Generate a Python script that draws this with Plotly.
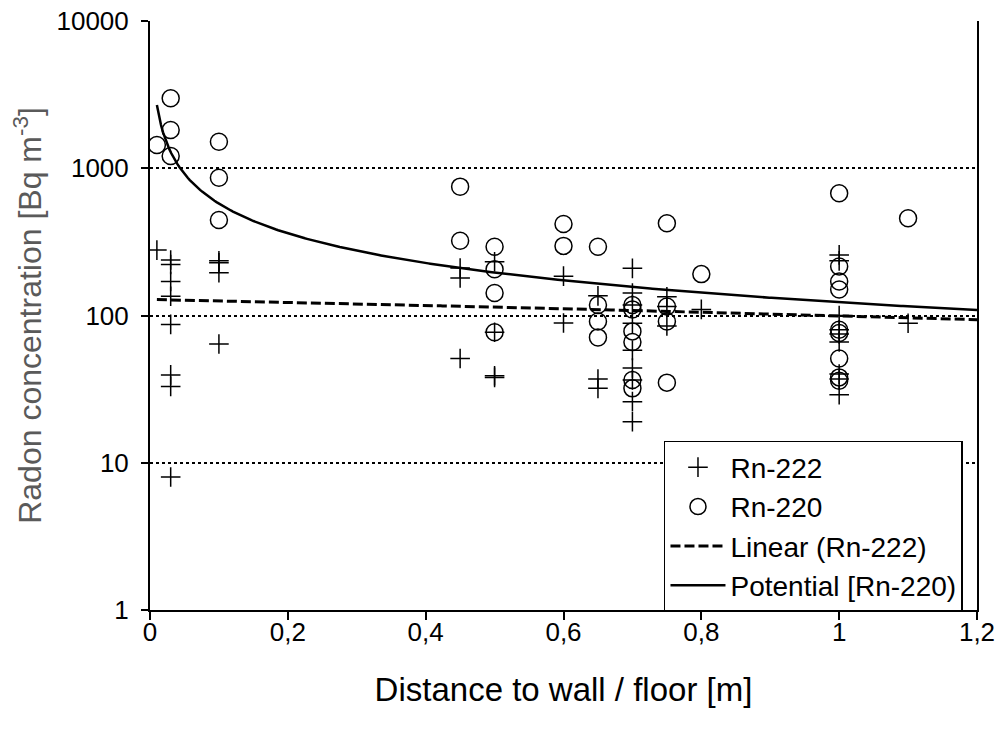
import numpy as np
import plotly.graph_objects as go

# Rn-222 measurements (crosses)
rn222_x = [0.01,
           0.03, 0.03, 0.03, 0.03, 0.03, 0.03, 0.03, 0.03,
           0.1, 0.1, 0.1, 0.1,
           0.45, 0.45, 0.45,
           0.5, 0.5, 0.5, 0.5,
           0.6, 0.6,
           0.65, 0.65, 0.65,
           0.7, 0.7, 0.7, 0.7, 0.7, 0.7, 0.7, 0.7, 0.7,
           0.75, 0.75, 0.75,
           0.8,
           1.0, 1.0, 1.0, 1.0, 1.0, 1.0, 1.0, 1.0, 1.0,
           1.1]
rn222_y = [278,
           238, 222, 170, 135, 87, 39.5, 33, 8,
           235, 228, 195, 64,
           210, 180, 51,
           232, 77, 39, 38,
           185, 89,
           136, 37, 32,
           209, 142, 118, 88.5, 58, 44, 36.5, 26, 19,
           134, 115, 85,
           110,
           258, 235, 100, 80, 75, 66, 40, 37, 29,
           88.5]

# Rn-220 measurements (circles)
rn220_x = [0.01,
           0.03, 0.03, 0.03,
           0.1, 0.1, 0.1,
           0.45, 0.45,
           0.5, 0.5, 0.5, 0.5,
           0.6, 0.6,
           0.65, 0.65, 0.65, 0.65,
           0.7, 0.7, 0.7, 0.7, 0.7, 0.7,
           0.75, 0.75, 0.75, 0.75,
           0.8,
           1.0, 1.0, 1.0, 1.0, 1.0, 1.0, 1.0, 1.0, 1.0,
           1.1]
rn220_y = [1438,
           2985, 1820, 1211,
           1515, 861, 445,
           750, 322,
           293, 206, 142, 77,
           418, 297,
           293, 118, 91, 71,
           118, 110, 78, 66, 36.5, 32,
           423, 115, 91, 35,
           191,
           676, 215, 170, 150, 80, 76, 51, 38, 36,
           457]

x_ticks = [0, 0.2, 0.4, 0.6, 0.8, 1.0, 1.2]
x_ticktext = ["0", "0,2", "0,4", "0,6", "0,8", "1", "1,2"]
y_ticks = [1, 10, 100, 1000, 10000]
y_ticktext = ["1", "10", "100", "1000", "10000"]

# Trend-line parameters
lin_intercept = 128.5      # Linear (Rn-222): y = a + b*x
lin_slope = -29.0
pow_coef = 123.0           # Potential (Rn-220): y = c * x^k
pow_exp = -0.67
trend_x_start = 0.01
trend_x_end = 1.2

xt = np.linspace(trend_x_start, trend_x_end, 400)
lin_y = lin_intercept + lin_slope * xt
pow_y = pow_coef * xt ** pow_exp

FONT = "Liberation Sans, Arial, sans-serif"

fig = go.Figure()
fig.add_trace(go.Scatter(x=rn222_x, y=rn222_y, mode="markers", name="Rn-222",
                         marker=dict(symbol="cross-thin", size=14, color="black",
                                     line=dict(color="black", width=1.5))))
fig.add_trace(go.Scatter(x=rn220_x, y=rn220_y, mode="markers", name="Rn-220",
                         marker=dict(symbol="circle-open", size=17, color="black",
                                     line=dict(color="black", width=1.5))))
fig.add_trace(go.Scatter(x=xt, y=lin_y, mode="lines", name="Linear (Rn-222)",
                         line=dict(color="black", width=3, dash="10px,4px")))
fig.add_trace(go.Scatter(x=xt, y=pow_y, mode="lines", name="Potential [Rn-220)",
                         line=dict(color="black", width=2.5)))

fig.update_layout(
    width=999, height=736,
    margin=dict(l=150, r=22, t=21, b=126, autoexpand=False),
    paper_bgcolor="white", plot_bgcolor="white",
    font=dict(family=FONT, color="black", size=26),
    showlegend=True,
    legend=dict(x=0.6215, y=0.287, xanchor="left", yanchor="top",
                bgcolor="white", bordercolor="black", borderwidth=1.5,
                font=dict(size=28, family=FONT), itemwidth=55,
                tracegroupgap=0),
    xaxis=dict(range=[0, 1.2], tickvals=x_ticks, ticktext=x_ticktext,
               automargin=False,
               showgrid=False, zeroline=False, showline=True,
               linecolor="black", linewidth=2, ticks="outside", ticklen=8,
               tickwidth=1.5, tickcolor="black",
               tickfont=dict(size=26), ticklabelstandoff=-10,
               title=dict(text="Distance to wall / floor [m]",
                          font=dict(size=33), standoff=32)),
    yaxis=dict(type="log", range=[0, 4], tickvals=y_ticks, ticktext=y_ticktext,
               automargin=False,
               showgrid=True, gridcolor="black", griddash="dot", gridwidth=1.5,
               zeroline=False, showline=True, linecolor="black", linewidth=2,
               mirror=True, ticks="outside", ticklen=7, tickwidth=1.5,
               tickcolor="black", tickfont=dict(size=26), ticklabelstandoff=7,
               title=dict(text="Radon concentration [Bq m<sup>-3</sup>]",
                          font=dict(size=32, color="#5a5a5a"), standoff=5)),
)

fig.write_html("out.html",
               config={"displayModeBar": False},
               post_script="document.body.style.margin='0';document.body.style.padding='0';")
